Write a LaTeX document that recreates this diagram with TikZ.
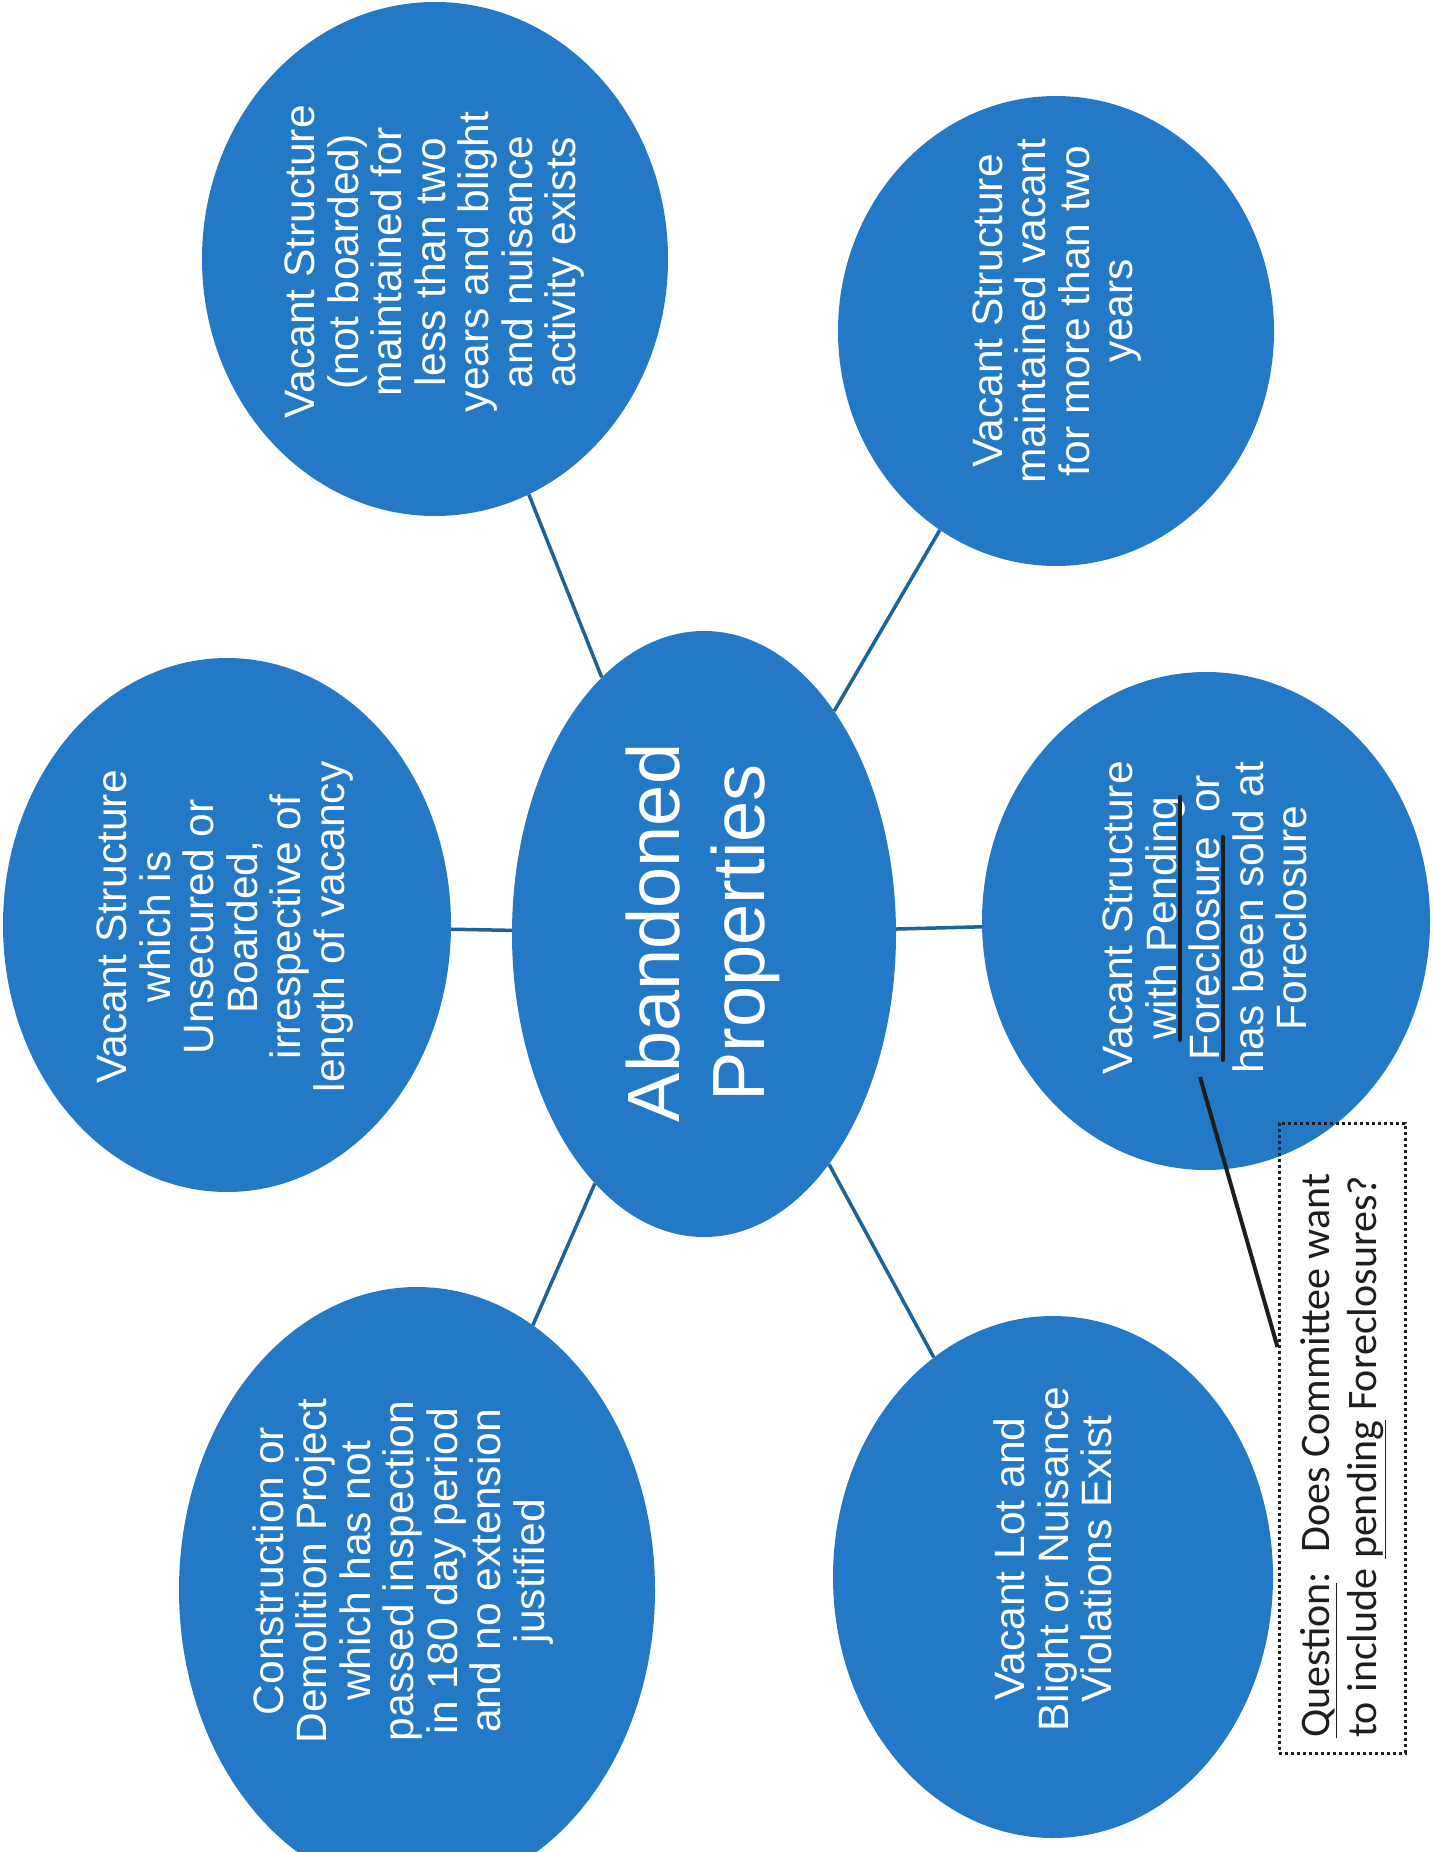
\documentclass[tikz,border=0pt]{standalone}
\usepackage{fontspec}
\setmainfont{Liberation Sans}
\newfontfamily\qfont{Carlito}
\usetikzlibrary{shapes.geometric}
\definecolor{bubble}{HTML}{2379C6}
\definecolor{linkc}{HTML}{1C6399}
\definecolor{inkc}{HTML}{1E1E1E}
\begin{document}
\begin{tikzpicture}[x=1pt,y=-1pt,
  bub/.style={ellipse, fill=bubble, inner sep=0pt},
  btxt/.style={rotate=90, align=center, text=white, inner sep=0pt,
    font=\fontsize{42.5}{43.5}\selectfont},
  conn/.style={draw=linkc, line width=3.5pt},
  inkline/.style={draw=inkc, line width=4pt, line cap=round},
  qbox/.style={draw=inkc, line width=3pt, dash pattern=on 3pt off 3pt, inner sep=0pt}]
\useasboundingbox (0,0) rectangle (1432,1852);
\fill[white] (0,0) rectangle (1432,1852);

% bubbles
\node[bub, minimum width=466pt, minimum height=514pt] (TL) at (435,259) {};
\node[bub, minimum width=436pt, minimum height=470pt] (TR) at (1056,331) {};
\node[bub, minimum width=448pt, minimum height=534pt] (L)  at (227,925) {};
\node[bub, minimum width=384pt, minimum height=606pt] (C)  at (704,934) {};
\node[bub, minimum width=448pt, minimum height=498pt] (R)  at (1206,921) {};
\node[bub, minimum width=476pt, minimum height=606pt] (BL) at (417,1590) {};
\node[bub, minimum width=440pt, minimum height=522pt] (BR) at (1053,1577) {};

% connectors
\draw[conn] (C) -- (TL);
\draw[conn] (C) -- (TR);
\draw[conn] (C) -- (L);
\draw[conn] (C) -- (R);
\draw[conn] (C) -- (BL);
\draw[conn] (C) -- (BR);

% texts
\node[btxt] (TLt) at (435,262) {Vacant Structure\\(not boarded)\\maintained for\\less than two\\years and blight\\and nuisance\\activity exists};
\node[btxt] (TRt) at (1057,311) {Vacant Structure\\maintained vacant\\for more than two\\years};
\node[btxt] (Lt) at (225,927) {Vacant Structure\\which is\\Unsecured or\\Boarded,\\irrespective of\\length of vacancy};
\node[btxt, font=\fontsize{74}{85}\selectfont] (Ct) at (703,933) {Abandoned\\Properties};
\node[btxt] (Rt) at (1205,918) {Vacant Structure\\with Pending\\Foreclosure\ \ or\\has been sold at\\Foreclosure};
\node[btxt] (BLt) at (403,1571) {Construction or\\Demolition Project\\which has not\\passed inspection\\in 180 day period\\and no extension\\justified};
\node[btxt] (BRt) at (1053,1559) {Vacant Lot and\\Blight or Nuisance\\Violations Exist};

% hand-drawn underlines in the foreclosure bubble
\draw[inkline] (1180,797) -- (1180,1040);
\draw[inkline] (1223,837) -- (1223,1060);

% question box
\node[qbox, minimum width=126pt, minimum height=630pt] (Q) at (1342,1438) {};
\node[rotate=90, anchor=west, align=left, inner sep=0pt, text=inkc,
  font=\qfont\fontsize{42}{47}\selectfont] (Qt) at (1343,1738)
  {\underline{Question}:\ \ Does Committee want\\to include \underline{pending} Foreclosures?};

% annotation line
\coordinate (qa) at (1200,1077);
\coordinate (qb) at (Q.west |- 0,1347);
\draw[draw=inkc, line width=4pt] (qa) -- (qb);
\end{tikzpicture}
\end{document}
